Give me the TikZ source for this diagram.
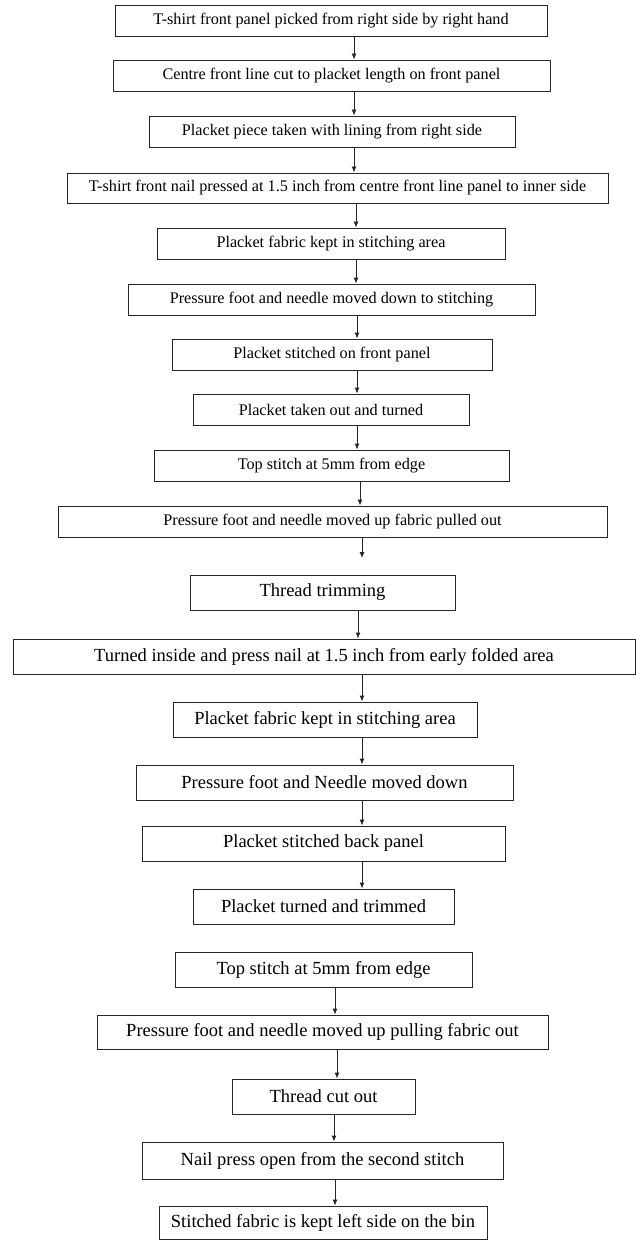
\documentclass[tikz,border=0pt]{standalone}
\usepackage{fontspec}
\setmainfont{Liberation Serif}
\usetikzlibrary{arrows.meta}
\begin{document}
\begin{tikzpicture}[x=1pt,y=-1pt,
  boxA/.style={draw=black!85,line width=0.9pt,inner sep=0pt,font=\fontsize{16.2}{19}\selectfont},
  boxB/.style={draw=black!85,line width=0.9pt,inner sep=0pt,font=\fontsize{18.5}{22}\selectfont},
  arr/.style={draw=black!85,line width=0.9pt,-{Latex[length=6pt,width=5pt]}}]
\useasboundingbox (0,0) rectangle (636,1241);
% box macro via explicit nodes: center, width, height
\node[boxA,minimum width=432,minimum height=31] (b1) at (331,20.5) {T-shirt front panel picked from right side by right hand};
\node[boxA,minimum width=437,minimum height=31] (b2) at (331.5,75.5) {Centre front line cut to placket length on front panel};
\node[boxA,minimum width=366,minimum height=31] (b3) at (332,131.5) {Placket piece taken with lining from right side};
\node[boxA,minimum width=541,minimum height=30] (b4) at (337.5,188) {T-shirt front nail pressed at 1.5 inch from centre front line panel to inner side};
\node[boxA,minimum width=348,minimum height=31] (b5) at (331,243.5) {Placket fabric kept in stitching area};
\node[boxA,minimum width=407,minimum height=31] (b6) at (331.5,299.5) {Pressure foot and needle moved down to stitching};
\node[boxA,minimum width=320,minimum height=31] (b7) at (332,354.5) {Placket stitched on front panel};
\node[boxA,minimum width=276,minimum height=31] (b8) at (331,409.5) {Placket taken out and turned};
\node[boxA,minimum width=355,minimum height=31] (b9) at (331.5,465.5) {Top stitch at 5mm from edge};
\node[boxA,minimum width=549,minimum height=31] (b10) at (332.5,521.5) {Pressure foot and needle moved up fabric pulled out};
\coordinate (c10) at (362,558);
\node[boxB,minimum width=265,minimum height=35] (b11) at (322.5,592.5) {Thread trimming};
\node[boxB,minimum width=622,minimum height=35] (b12) at (324,656.5) {Turned inside and press nail at 1.5 inch from early folded area};
\node[boxB,minimum width=304,minimum height=35] (b13) at (325,719.5) {Placket fabric kept in stitching area};
\node[boxB,minimum width=377,minimum height=35] (b14) at (324.5,782.5) {Pressure foot and Needle moved down};
\node[boxB,minimum width=363,minimum height=35] (b15) at (323.5,843.5) {Placket stitched back panel};
\node[boxB,minimum width=261,minimum height=35] (b16) at (323.5,906.5) {Placket turned and trimmed};
\node[boxB,minimum width=297,minimum height=35] (b17) at (323.5,969.5) {Top stitch at 5mm from edge};
\node[boxB,minimum width=451,minimum height=34] (b18) at (322.5,1032) {Pressure foot and needle moved up pulling fabric out};
\node[boxB,minimum width=183,minimum height=35] (b19) at (323.5,1096.5) {Thread cut out};
\node[boxB,minimum width=361,minimum height=37] (b20) at (322.5,1160.5) {Nail press open from the second stitch};
\node[boxB,minimum width=328,minimum height=33] (b21) at (323,1222.5) {Stitched fabric is kept left side on the bin};
% connectors
\draw[arr] (b1.south -| 354,0) -- (b2.north -| 354,0);
\draw[arr] (b2.south -| 354,0) -- (b3.north -| 354,0);
\draw[arr] (b3.south -| 354,0) -- (b4.north -| 354,0);
\draw[arr] (b4.south -| 356,0) -- (b5.north -| 356,0);
\draw[arr] (b5.south -| 356,0) -- (b6.north -| 356,0);
\draw[arr] (b6.south -| 357,0) -- (b7.north -| 357,0);
\draw[arr] (b7.south -| 357,0) -- (b8.north -| 357,0);
\draw[arr] (b8.south -| 357,0) -- (b9.north -| 357,0);
\draw[arr] (b9.south -| 360,0) -- (b10.north -| 360,0);
\draw[arr] (b10.south -| 362,0) -- (c10);
\draw[arr] (b11.south -| 358,0) -- (b12.north -| 358,0);
\draw[arr] (b12.south -| 362,0) -- (b13.north -| 362,0);
\draw[arr] (b13.south -| 362,0) -- (b14.north -| 362,0);
\draw[arr] (b14.south -| 362,0) -- (b15.north -| 362,0);
\draw[arr] (b15.south -| 362,0) -- (b16.north -| 362,0);
\draw[arr] (b17.south -| 335,0) -- (b18.north -| 335,0);
\draw[arr] (b18.south -| 337,0) -- (b19.north -| 337,0);
\draw[arr] (b19.south -| 334,0) -- (b20.north -| 334,0);
\draw[arr] (b20.south -| 335,0) -- (b21.north -| 335,0);
\end{tikzpicture}
\end{document}
